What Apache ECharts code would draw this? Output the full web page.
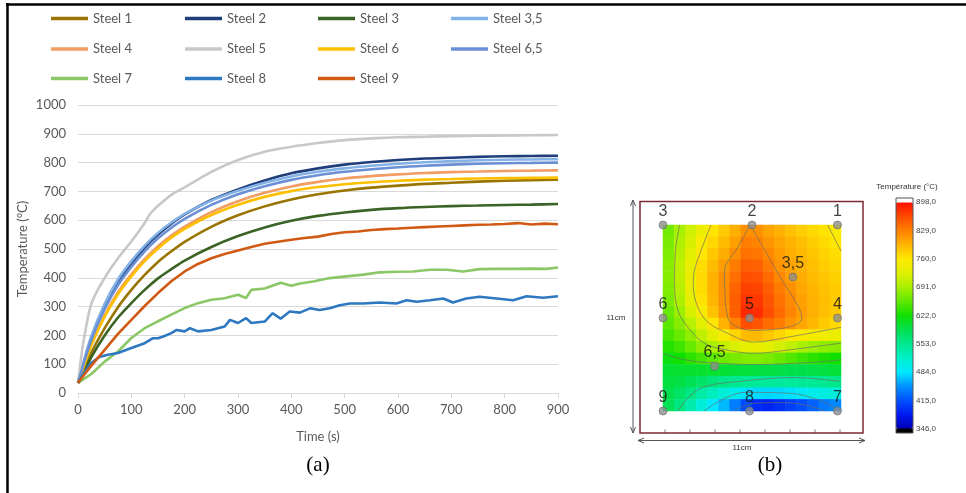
<!DOCTYPE html>
<html><head><meta charset="utf-8">
<script src="https://cdn.jsdelivr.net/npm/echarts@6/dist/echarts.min.js"></script>
<style>html,body{margin:0;padding:0;background:#fff}#c{width:966px;height:493px}</style>
</head><body><div id="c"></div>
<script>
// ---------- (a) line chart data ----------
const seriesNames = ['Steel 1','Steel 2','Steel 3','Steel 3,5','Steel 4','Steel 5','Steel 6','Steel 6,5','Steel 7','Steel 8','Steel 9'];
const seriesColors = ['#9a7400','#1f3d7a','#3a6325','#83b2e6','#f19d63','#c8c8c8','#ffc000','#6a8fd4','#8bc766','#2e78c2','#d05a14'];
const tSmooth = [0,10,25,50,75,100,125,150,175,200,250,300,350,400,450,500,550,600,650,700,750,800,850,900];
const temp1  = [35,75,140,225,298,358,410,455,492,525,577,617,648,672,690,703,713,720,726,730,734,737,739,741];
const temp2  = [35,100,190,300,385,450,505,550,588,620,670,707,738,763,780,793,802,809,814,817,820,822,823,824];
const temp3  = [35,70,125,200,262,312,358,398,430,460,507,545,575,598,615,627,636,642,646,649,651,653,654,656];
const temp35 = [35,105,198,310,395,458,512,556,592,622,668,702,730,752,768,780,789,796,801,805,808,810,811,812];
const temp4  = [35,90,170,270,350,412,465,510,547,578,628,666,695,717,733,745,753,759,764,767,769,771,772,773];
const temp6  = [35,88,166,265,343,405,458,502,539,570,618,654,681,701,715,725,732,737,741,743,745,746,747,748];
const temp65 = [35,98,185,292,375,438,492,537,574,605,653,690,718,740,756,768,777,784,789,793,796,798,799,800];
const time5  = [0,5,10,25,50,75,100,125,135,140,150,175,200,250,300,350,400,450,500,550,600,650,700,750,800,850,900];
const temp5  = [35,110,175,310,400,468,526,590,622,632,650,688,714,768,809,838,855,868,878,884,888,890,892,893,894,895,896];
const time7  = [0,25,50,75,100,125,150,175,200,225,250,275,300,315,325,350,380,400,416,441,472,503,535,566,597,628,660,691,722,753,785,816,847,878,900];
const temp7  = [35,66,109,144,191,225,249,272,295,312,324,329,341,330,358,363,383,372,380,387,399,405,411,419,421,422,428,428,422,430,431,431,432,431,436];
const time8  = [0,10,25,40,56,75,100,125,140,150,160,175,185,200,210,225,250,275,285,300,315,325,350,365,380,397,416,435,453,472,491,510,535,566,597,616,635,660,685,703,728,753,785,816,841,872,900];
const temp8  = [35,66,105,125,133,139,156,173,190,190,196,208,219,214,225,214,219,231,254,243,260,243,248,277,258,283,279,294,288,294,305,311,311,314,311,322,317,322,328,314,328,334,328,322,336,331,336];
const time9  = [0,10,25,50,75,100,125,150,175,200,225,250,275,300,325,350,375,400,425,450,475,500,525,550,575,600,625,650,675,700,725,750,775,800,825,850,875,900];
const temp9  = [35,60,95,150,205,254,302,347,388,422,448,468,483,495,507,518,525,532,538,543,552,558,561,566,569,571,574,576,578,580,582,584,585,587,590,585,588,586];

// ---------- (b) map data ----------
const heatRowsValues = [
 [665,690,715,740,762,780,798,818,818,806,795,786,778,769,763,752],
 [668,695,720,752,772,790,808,830,826,815,805,796,787,778,769,761],
 [672,700,728,762,782,800,820,838,836,824,810,800,791,783,774,767],
 [675,705,735,768,790,810,832,850,848,832,816,805,796,787,778,771],
 [675,705,738,770,795,818,840,860,858,842,824,810,799,790,783,776],
 [672,700,735,768,795,820,846,868,866,850,832,818,804,794,786,779],
 [668,695,730,763,793,820,850,876,874,856,838,823,808,797,788,780],
 [660,685,720,750,785,815,850,882,880,860,842,826,810,797,788,779],
 [655,675,700,728,762,795,828,860,856,842,830,815,803,792,780,770],
 [645,660,680,705,730,752,772,790,792,782,772,762,755,748,742,738],
 [630,642,660,680,692,708,722,732,735,728,718,706,693,685,680,675],
 [615,622,633,645,655,663,669,672,672,668,660,651,642,634,627,622],
 [600,602,603,603,602,600,598,596,595,594,592,590,590,592,595,598],
 [595,592,585,575,565,558,553,550,548,546,545,546,548,550,553,556],
 [588,575,560,540,525,510,495,482,479,478,479,482,490,497,503,508],
 [585,562,535,508,484,465,440,412,392,388,395,405,414,425,438,445]
];
const sensorLabels = ['1','2','3','3,5','4','5','6','6,5','7','8','9'];
const sensorX = [98,50,0,73,98,48.6,0,29,98,48.6,0];
const sensorY = [0,0,0,28,50,50,50,76,100,100,100];
const contour829 = [[49,0],[42,12],[34.6,24.8],[36.4,50],[50.5,56.7],[78,50],[64,25],[49,0]];
const contour760a = [[27,0],[18,23],[17,32],[23,50],[38,59],[51,63],[72,60],[100,55]];
const contour760b = [[92.5,0],[100,14]];
const contour691 = [[9.3,0],[7,14],[6.5,32],[8.4,46],[14,55],[23,63.5],[35,67],[51,69],[72,67],[100,63.5]];
const contour622 = [[0,69],[8.4,71.6],[21.5,73.7],[53,75],[81,74],[100,72.5]];
const contour553 = [[8.4,100],[14,93],[23,87],[44,84],[72,82],[100,84]];
const contour484 = [[23,100],[33,94],[46,90],[72,90.5],[87,94],[99,99.5]];
const contour415 = [[40,100],[50,96],[68,95.5],[81,97],[91,100]];
const colorbarTicks = ['346,0','415,0','484,0','553,0','622,0','691,0','760,0','829,0','898,0'];
const colorbarColors = ['#0000b0','#0018f0','#0050ff','#0090ff','#00e8ff','#00f0c8','#00e890','#00e050','#10e000','#60e800','#a8f000','#e0f000','#ffe800','#ffb400','#ff8000','#ff4800','#ff1000'];

// ---------- build ----------
const FONT = 'Lato';
const GRAY = '#595959';
const smoothTemps = {'Steel 1':temp1,'Steel 2':temp2,'Steel 3':temp3,'Steel 3,5':temp35,'Steel 4':temp4,'Steel 6':temp6,'Steel 6,5':temp65};
const ownTimes = {'Steel 5':[time5,temp5],'Steel 7':[time7,temp7],'Steel 8':[time8,temp8],'Steel 9':[time9,temp9]};
const lineSeries = seriesNames.map((n,i)=>{
  let data, noisy=false;
  if (smoothTemps[n]) data = tSmooth.map((t,k)=>[t, smoothTemps[n][k]]);
  else { const [ts,vs]=ownTimes[n]; data = ts.map((t,k)=>[t,vs[k]]); noisy = n!=='Steel 5'; }
  return {name:n, type:'line', xAxisIndex:0, yAxisIndex:0, data, showSymbol:false, symbol:'none',
    smooth: noisy?false:0.3, color: seriesColors[i], lineStyle:{width:2.6, color:seriesColors[i]}, z:3};
});
const colX=[51,185,318,451], rowY=[20,50.5,80];
const legends = seriesNames.map((n,i)=>({data:[n], left:colX[i%4], top:rowY[Math.floor(i/4)]-8, padding:0,
  itemWidth:37, itemHeight:3.5, icon:'rect', itemGap:0,
  textStyle:{color:GRAY, fontFamily:FONT, fontSize:13}}));

const nR = heatRowsValues.length, nC = heatRowsValues[0].length;
const heatData = [];
heatRowsValues.forEach((row,r)=>row.forEach((v,c)=>heatData.push([c,r,v])));
const idx = n=>Array.from({length:n},(_,i)=>String(i));

const contourStyle = {type:'line', xAxisIndex:2, yAxisIndex:2, showSymbol:false, symbol:'none', smooth:0.35,
  lineStyle:{color:'#6b6b6b', width:0.9, opacity:0.75}, z:4, silent:true};
const contours = [contour829,contour760a,contour760b,contour691,contour622,contour553,contour484,contour415]
  .map(c=>Object.assign({}, contourStyle, {data:c}));

const heatIndex = lineSeries.length;
const series = lineSeries.concat([
  {type:'heatmap', xAxisIndex:1, yAxisIndex:1, data:heatData, itemStyle:{borderWidth:0}, z:2, silent:true},
  ...contours,
  {type:'scatter', xAxisIndex:2, yAxisIndex:2, data:sensorX.map((x,i)=>({value:[x,sensorY[i]], name:sensorLabels[i]})),
   symbolSize:8, clip:false, itemStyle:{color:'#8f8f8f', borderColor:'#6d6d6d', borderWidth:0.8}, z:6,
   label:{show:true, position:'top', distance:1, formatter:p=>p.name, color:'#111', fontSize:16, fontFamily:'Liberation Sans'}}
]);

const frameCol = '#7b2a35';
const graphics = [
  {type:'line', shape:{x1:7.5,y1:3,x2:7.5,y2:493}, style:{stroke:'#000', lineWidth:2.5}},
  {type:'line', shape:{x1:6,y1:4.5,x2:966,y2:4.5}, style:{stroke:'#000', lineWidth:2.5}},
  {type:'text', style:{text:'(a)', x:318, y:465, textAlign:'center', textVerticalAlign:'middle', font:'21px "Liberation Serif"', fill:'#000'}},
  {type:'text', style:{text:'(b)', x:770, y:465, textAlign:'center', textVerticalAlign:'middle', font:'21px "Liberation Serif"', fill:'#000'}},
  {type:'rect', shape:{x:640,y:201.5,width:223,height:231.5}, style:{fill:'none', stroke:frameCol, lineWidth:1.5}, z:1},
  {type:'line', shape:{x1:633,y1:200,x2:633,y2:433}, style:{stroke:'#555', lineWidth:1}},
  {type:'polyline', shape:{points:[[630.5,206],[633,200],[635.5,206]]}, style:{stroke:'#555', fill:'none', lineWidth:1}},
  {type:'polyline', shape:{points:[[630.5,427],[633,433],[635.5,427]]}, style:{stroke:'#555', fill:'none', lineWidth:1}},
  {type:'line', shape:{x1:638,y1:440.5,x2:865,y2:440.5}, style:{stroke:'#555', lineWidth:1}},
  {type:'polyline', shape:{points:[[644,438],[638,440.5],[644,443]]}, style:{stroke:'#555', fill:'none', lineWidth:1}},
  {type:'polyline', shape:{points:[[859,438],[865,440.5],[859,443]]}, style:{stroke:'#555', fill:'none', lineWidth:1}},
  {type:'text', style:{text:'11cm', x:616, y:318, textAlign:'center', textVerticalAlign:'middle', font:'8px "Liberation Sans"', fill:'#333'}},
  {type:'text', style:{text:'11cm', x:742, y:447.5, textAlign:'center', textVerticalAlign:'middle', font:'8px "Liberation Sans"', fill:'#333'}},
  {type:'text', style:{text:'Température (°C)', x:907, y:187, textAlign:'center', textVerticalAlign:'middle', font:'8px "Liberation Sans"', fill:'#333'}},
  {type:'rect', shape:{x:896,y:198,width:17,height:4.5}, style:{fill:'#fff'}, z:100},
  {type:'rect', shape:{x:896,y:428.5,width:17,height:4.5}, style:{fill:'#000'}, z:100},
  {type:'rect', shape:{x:896,y:198,width:17,height:235}, style:{fill:'none', stroke:'#555', lineWidth:1}, z:101}
];
for (let k=0;k<8;k++) graphics.push({type:'line', shape:{x1:665+25*k,y1:433,x2:665+25*k,y2:429.5}, style:{stroke:'#777', lineWidth:1}});

const option = {
  animation:false,
  backgroundColor:'#fff',
  legend: legends,
  grid:[
    {left:78, top:105, width:480, height:288},
    {left:663, top:225, width:178, height:186},
    {left:663, top:225, width:178, height:186},
    {left:896, top:202, width:17, height:227}
  ],
  xAxis:[
    {type:'value', gridIndex:0, min:0, max:900, interval:100,
     axisLine:{lineStyle:{color:'#d9d9d9'}}, axisTick:{show:true, length:5, lineStyle:{color:'#d9d9d9'}},
     axisLabel:{color:GRAY, fontFamily:FONT, fontSize:13, margin:10, formatter:v=>String(v)}, splitLine:{show:false},
     name:'Time (s)', nameLocation:'middle', nameGap:37, nameTextStyle:{color:GRAY, fontFamily:FONT, fontSize:13}},
    {type:'category', gridIndex:1, data:idx(nC), show:false},
    {type:'value', gridIndex:2, min:0, max:100, show:false},
    {type:'value', gridIndex:3, show:false}
  ],
  yAxis:[
    {type:'value', gridIndex:0, min:0, max:1000, interval:100,
     axisLine:{show:false}, axisTick:{show:false},
     axisLabel:{color:GRAY, fontFamily:FONT, fontSize:13, margin:12, formatter:v=>String(v)},
     splitLine:{lineStyle:{color:'#d9d9d9'}},
     name:'Temperature (°C)', nameLocation:'middle', nameGap:49, nameTextStyle:{color:GRAY, fontFamily:FONT, fontSize:13}},
    {type:'category', gridIndex:1, data:idx(nR), inverse:true, show:false},
    {type:'value', gridIndex:2, min:0, max:100, inverse:true, show:false},
    {type:'category', gridIndex:3, data:colorbarTicks, boundaryGap:false, position:'right',
     axisLine:{show:false}, axisTick:{show:true, length:3, lineStyle:{color:'#555'}},
     axisLabel:{color:'#444', fontSize:8, fontFamily:'Liberation Sans', margin:3}, splitLine:{show:false}}
  ],
  visualMap:{type:'continuous', min:346, max:898, seriesIndex:heatIndex, dimension:2,
    left:896, top:202, itemWidth:17, itemHeight:227, padding:0, calculable:false, hoverLink:false,
    text:null, showLabel:false, inRange:{color:colorbarColors}},
  graphic: graphics,
  series
};
const chart = echarts.init(document.getElementById('c'), null, {renderer:'canvas'});
chart.setOption(option);
</script></body></html>
